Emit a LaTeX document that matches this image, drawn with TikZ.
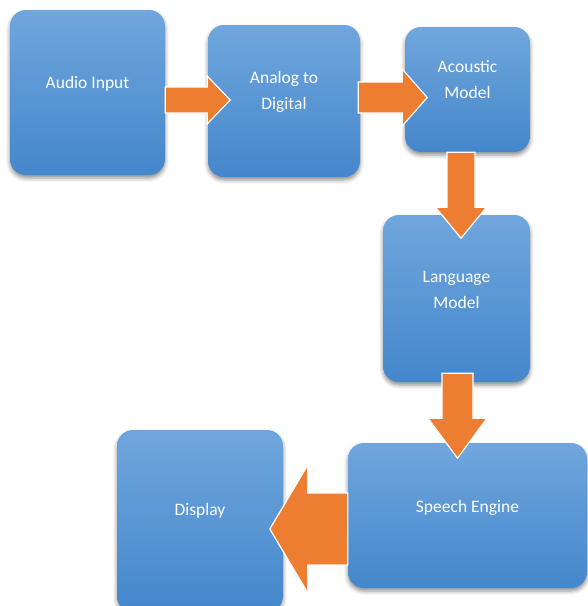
\documentclass[tikz,border=0pt]{standalone}
\usepackage{fontspec}
\setmainfont{Carlito}
\usepackage{tikz}
\usetikzlibrary{calc,shadows,shadows.blur}

\definecolor{boxtop}{RGB}{112,166,221}
\definecolor{boxbot}{RGB}{68,135,203}
\definecolor{arroworange}{RGB}{237,125,49}

% block arrow: start, tip, shaft half width, head half width, head length
\newcommand{\bigarrow}[5]{%
  \path ($(#2)!#5!(#1)$) coordinate (ba-h);
  \filldraw[arrowfill] ($(#1)!#3!90:(#2)$) -- ($(ba-h)!#3!90:(#2)$) -- ($(ba-h)!#4!90:(#2)$)
    -- (#2) -- ($(ba-h)!#4!-90:(#2)$) -- ($(ba-h)!#3!-90:(#2)$) -- ($(#1)!#3!-90:(#2)$) -- cycle;
}

\begin{document}
\begin{tikzpicture}[x=1pt,y=-1pt,
  stage/.style={
    rounded corners=16pt,
    top color=boxtop,
    bottom color=boxbot,
    inner sep=0pt,
    blur shadow={shadow xshift=0pt, shadow yshift=-3pt, shadow blur radius=4pt, shadow opacity=45},
    },
  label/.style={
    text=white,
    align=center,
    font=\fontsize{17.5}{26}\selectfont,
    },
  arrowfill/.style={fill=arroworange, draw=white, line width=1.2pt, line join=miter},
  ]

  \useasboundingbox (0,0) rectangle (588,606);
  \clip (0,0) rectangle (588,606);

  \node[stage, minimum width=155pt, minimum height=165pt] (audio) at (87.5,92.5) {};
  \node[stage, minimum width=152pt, minimum height=152pt] (analog) at (284,101) {};
  \node[stage, minimum width=125pt, minimum height=125pt] (acoustic) at (467.5,89.5) {};
  \node[stage, minimum width=147pt, minimum height=167pt] (language) at (456.5,298.5) {};
  \node[stage, minimum width=239pt, minimum height=145pt] (speech) at (467.5,515.5) {};
  \node[stage, minimum width=166pt, minimum height=182pt] (display) at (200,521) {};

  \node[label] (audio-t) at ([yshift=9pt]audio.center) {Audio Input};
  \node[label] (analog-t) at ([yshift=9pt]analog.center) {Analog to\\Digital};
  \node[label] (acoustic-t) at ([yshift=10pt]acoustic.center) {Acoustic\\Model};
  \node[label] (language-t) at ([yshift=9pt]language.center) {Language\\Model};
  \node[label] (speech-t) at ([yshift=8pt]speech.center) {Speech Engine};
  \node[label] (display-t) at ([yshift=10pt]display.center) {Display};

  \coordinate (s1) at ($(audio.east)+(0,7.5)$);
  \coordinate (t1) at ($(s1)+(65,0)$);
  \coordinate (s2) at ($(analog.east)+(-2,-3.5)$);
  \coordinate (t2) at ($(s2)+(69,0)$);
  \coordinate (s3) at ($(acoustic.south)+(-6.5,0)$);
  \coordinate (t3) at ($(s3)+(0,86)$);
  \coordinate (s4) at ($(language.south)+(1,-9)$);
  \coordinate (t4) at ($(s4)+(0,85)$);
  \coordinate (s5) at ($(speech.west)+(0,13.5)$);
  \coordinate (t5) at ($(s5)+(-78,0)$);

  \bigarrow{s1}{t1}{13pt}{24pt}{23pt}
  \bigarrow{s2}{t2}{15.5pt}{28.5pt}{25pt}
  \bigarrow{s3}{t3}{14pt}{25.5pt}{31pt}
  \bigarrow{s4}{t4}{15.5pt}{29.5pt}{40pt}
  \bigarrow{s5}{t5}{36pt}{64pt}{38pt}

\end{tikzpicture}
\end{document}
